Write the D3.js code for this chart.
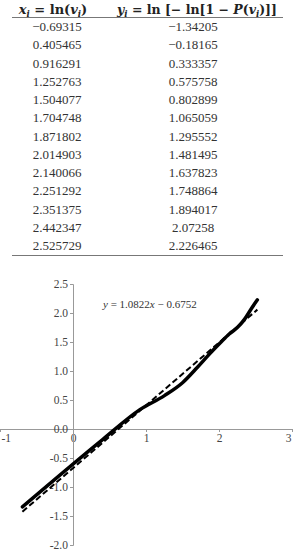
<!DOCTYPE html>
<html>
<head>
<meta charset="utf-8">
<script src="https://cdn.jsdelivr.net/npm/d3@7"></script>
<style>
  body { margin: 0; background: #fff; }
</style>
</head>
<body>
<div id="chart"></div>
<script>
// table / chart values
const xVals = [-0.69315, 0.405465, 0.916291, 1.252763, 1.504077, 1.704748, 1.871802,
               2.014903, 2.140066, 2.251292, 2.351375, 2.442347, 2.525729];
const yVals = [-1.34205, -0.18165, 0.333357, 0.575758, 0.802899, 1.065059, 1.295552,
               1.481495, 1.637823, 1.748864, 1.894017, 2.07258, 2.226465];
const xLabels = ['\u22120.69315', '0.405465', '0.916291', '1.252763', '1.504077', '1.704748', '1.871802',
                 '2.014903', '2.140066', '2.251292', '2.351375', '2.442347', '2.525729'];
const yLabels = ['\u22121.34205', '\u22120.18165', '0.333357', '0.575758', '0.802899', '1.065059', '1.295552',
                 '1.481495', '1.637823', '1.748864', '1.894017', '2.07258', '2.226465'];
const slope = 1.0822;
const intercept = -0.6752;
const xTicks = [-1, 0, 1, 2, 3];
const yTicks = [-2.0, -1.5, -1.0, -0.5, 0.0, 0.5, 1.0, 1.5, 2.0, 2.5];

const W = 293, H = 554;
const serif = '"Liberation Serif", "DejaVu Serif", serif';

const svg = d3.select('#chart').append('svg')
  .attr('width', W).attr('height', H)
  .style('font-family', serif);

// ---- table ----
const col1 = 57, col2 = 193;
const header = svg.append('g').attr('font-weight', 'bold').attr('font-size', 13)
  .attr('font-family', '"DejaVu Serif", serif').attr('fill', '#222');
const h1 = header.append('text').attr('x', 53).attr('y', 14).attr('text-anchor', 'middle');
h1.append('tspan').attr('font-style', 'italic').text('x');
h1.append('tspan').attr('font-style', 'italic').attr('font-size', 8.5).attr('dy', 3).text('i');
h1.append('tspan').attr('dy', -3).text(' = ln(');
h1.append('tspan').attr('font-style', 'italic').text('v');
h1.append('tspan').attr('font-style', 'italic').attr('font-size', 8.5).attr('dy', 3).text('i');
h1.append('tspan').attr('dy', -3).text(')');

const h2 = header.append('text').attr('x', 197).attr('y', 14).attr('text-anchor', 'middle')
  .attr('font-size', 12.5);
h2.append('tspan').attr('font-style', 'italic').text('y');
h2.append('tspan').attr('font-style', 'italic').attr('font-size', 8.5).attr('dy', 3).text('i');
h2.append('tspan').attr('dy', -3).text(' = ln [\u2212 ln[1 \u2212 ');
h2.append('tspan').attr('font-style', 'italic').text('P');
h2.append('tspan').text('(');
h2.append('tspan').attr('font-style', 'italic').text('v');
h2.append('tspan').attr('font-style', 'italic').attr('font-size', 8.5).attr('dy', 3).text('i');
h2.append('tspan').attr('dy', -3).text(')]]');

svg.append('line').attr('x1', 12).attr('x2', 283).attr('y1', 17.5).attr('y2', 17.5)
  .attr('stroke', '#777').attr('stroke-width', 1);

const rowY = d3.scaleLinear().domain([0, xVals.length - 1]).range([31, 250]);
const rows = svg.append('g').attr('font-size', 13).attr('fill', '#333').attr('text-anchor', 'middle');
rows.selectAll('.c1').data(xLabels).enter().append('text')
  .attr('x', col1).attr('y', (d, i) => rowY(i)).text(d => d);
rows.selectAll('.c2').data(yLabels).enter().append('text')
  .attr('x', col2).attr('y', (d, i) => rowY(i)).text(d => d);

svg.append('line').attr('x1', 12).attr('x2', 283).attr('y1', 255.5).attr('y2', 255.5)
  .attr('stroke', '#777').attr('stroke-width', 1);

// ---- plot ----
const x = d3.scaleLinear().domain([-1, 3]).range([0, 292]);
const y = d3.scaleLinear().domain([-2, 2.5]).range([545, 284]);

const axisColor = '#999';

const xAxis = svg.append('g')
  .attr('transform', 'translate(0,' + y(0) + ')')
  .call(d3.axisBottom(x).tickValues(xTicks).tickFormat(d3.format('d')).tickSize(3).tickPadding(2));
xAxis.select('.domain').attr('stroke', axisColor).attr('d', 'M0,0.5H293');
xAxis.selectAll('line').attr('stroke', axisColor);
xAxis.selectAll('text').attr('fill', '#444').attr('font-family', serif).attr('font-size', 11.5)
  .text(d => String(d).replace('\u2212', '-'))
  .attr('text-anchor', d => d === -1 ? 'start' : (d === 3 ? 'end' : 'middle'))
  .attr('dx', d => d === -1 ? 1 : (d === 3 ? -1 : 0));

const yAxis = svg.append('g')
  .attr('transform', 'translate(' + x(0) + ',0)')
  .call(d3.axisLeft(y).tickValues(yTicks).tickFormat(d3.format('.1f')).tickSize(3).tickPadding(2));
yAxis.select('.domain').attr('stroke', axisColor);
yAxis.selectAll('line').attr('stroke', axisColor);
yAxis.selectAll('text').attr('fill', '#444').attr('font-family', serif).attr('font-size', 11.5)
  .text(d => d3.format('.1f')(d).replace('\u2212', '-'));

// fitted line
const fitX = [xVals[0], xVals[xVals.length - 1]];
svg.append('path')
  .datum(fitX)
  .attr('fill', 'none').attr('stroke', '#000').attr('stroke-width', 2)
  .attr('stroke-dasharray', '6,3')
  .attr('d', d3.line().x(d => x(d)).y(d => y(slope * d + intercept)));

// data curve
const pts = xVals.map((v, i) => [v, yVals[i]]);
svg.append('path')
  .datum(pts)
  .attr('fill', 'none').attr('stroke', '#000').attr('stroke-width', 3.5)
  .attr('stroke-linecap', 'round')
  .attr('d', d3.line().x(d => x(d[0])).y(d => y(d[1])).curve(d3.curveMonotoneX));

// equation label
const eq = svg.append('text').attr('x', 103).attr('y', 308)
  .attr('font-size', 11).attr('fill', '#333');
eq.append('tspan').attr('font-style', 'italic').text('y');
eq.append('tspan').text(' = 1.0822');
eq.append('tspan').attr('font-style', 'italic').text('x');
eq.append('tspan').text(' \u2212 0.6752');
</script>
</body>
</html>
